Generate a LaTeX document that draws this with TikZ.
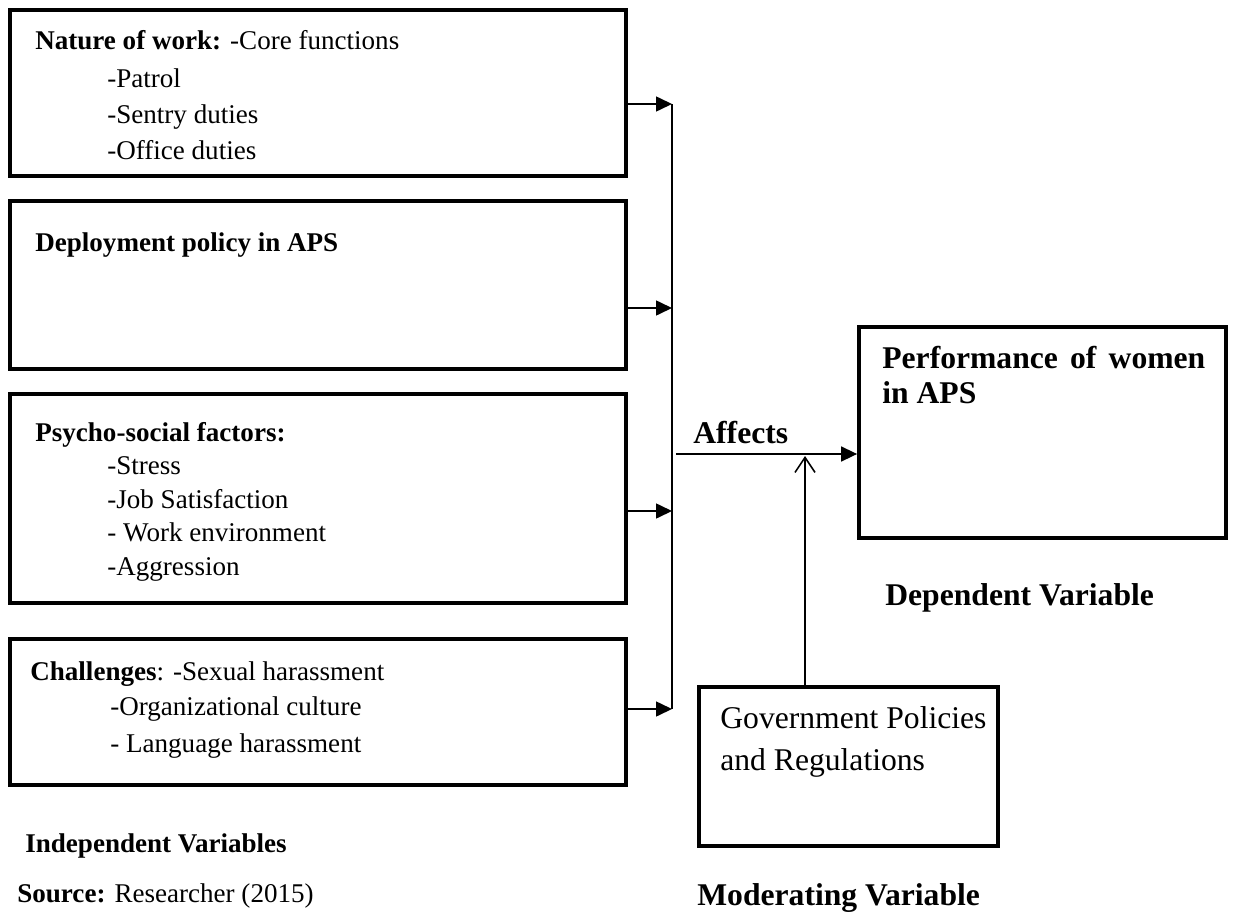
\documentclass[tikz,border=0pt]{standalone}
\usepackage{fontspec}
\setmainfont{Liberation Serif}
\usetikzlibrary{arrows.meta}

\tikzset{
  varbox/.style={draw,line width=2.2pt,inner sep=0pt},
  txt/.style={anchor=base west,inner sep=0pt},
  bigtxt/.style={txt,font=\fontsize{18}{22}\selectfont},
  feed/.style={line width=0.9pt,-{Triangle[length=0.32cm,width=0.3cm]}},
  moder/.style={line width=0.9pt,-{Straight Barb[length=0.3cm,width=0.4cm]}},
}

\begin{document}
\begin{tikzpicture}[x=0.02cm,y=-0.02cm,font=\fontsize{15.4}{20}\selectfont]
  \useasboundingbox (0,0) rectangle (1234,916);
  % Boxes
  % -- independent variables
  \node[varbox,minimum width=12.32cm,minimum height=3.32cm] (work) at (318,93) {};
  \node[varbox,minimum width=12.32cm,minimum height=3.36cm] (deploy) at (318,285) {};
  \node[varbox,minimum width=12.32cm,minimum height=4.18cm] (psycho) at (318,498.5) {};
  \node[varbox,minimum width=12.32cm,minimum height=2.92cm] (chall) at (318,712) {};
  % -- dependent and moderating variable
  \node[varbox,minimum width=7.34cm,minimum height=4.22cm] (perf) at (1042.5,432.5) {};
  \node[varbox,minimum width=5.98cm,minimum height=3.18cm] (gov) at (848.5,766.5) {};
  % Box texts
  \node[txt] (work0) at (35,50) {\textbf{Nature of work:} -Core functions};
  \foreach \item [count=\i] in {-Patrol,-Sentry duties,-Office duties}
    \node[txt] (work\i) at (107,51+36*\i) {\item};
  \node[txt] (deploy0) at (35,251) {\textbf{Deployment policy in APS}};
  \node[txt] (psycho0) at (35,441) {\textbf{Psycho-social factors:}};
  \foreach \item [count=\i] in {-Stress,-Job Satisfaction,- Work environment,-Aggression}
    \node[txt] (psycho\i) at (107,441+33.6*\i) {\item};
  \node[txt] (chall0) at (30,680) {\textbf{Challenges}: -Sexual harassment};
  \node[txt] (chall1) at (110,715) {-Organizational culture};
  \node[txt] (chall2) at (110,752) {- Language harassment};
  \node[bigtxt] (perf0) at (882,368) {\makebox[6.46cm][s]{\bfseries Performance of women}};
  \node[bigtxt] (perf1) at (882,403) {\textbf{in APS}};
  \node[bigtxt] (gov0) at (720,728) {Government Policies};
  \node[bigtxt] (gov1) at (720,770) {and Regulations};
  % Captions
  \node[txt] (indep) at (25,852) {\textbf{Independent Variables}};
  \node[txt] (source) at (17,902) {\textbf{Source:} Researcher (2015)};
  \node[bigtxt] (dep) at (885,605) {\textbf{Dependent Variable}};
  \node[bigtxt] (modvar) at (697,905) {\textbf{Moderating Variable}};
  \node[bigtxt] (affects) at (693,443) {\textbf{Affects}};
  % Connectors
  \coordinate (bus1) at (672,104);
  \coordinate (bus2) at (672,308);
  \coordinate (bus3) at (672,511);
  \coordinate (bus4) at (672,709);
  \coordinate (aff) at (676,454);
  \coordinate (mod) at (805,456);
  \draw[feed] (work.east |- bus1) -- (bus1);
  \draw[feed] (deploy.east |- bus2) -- (bus2);
  \draw[feed] (psycho.east |- bus3) -- (bus3);
  \draw[feed] (chall.east |- bus4) -- (bus4);
  \draw[line width=0.9pt] (bus1) -- (bus4);
  \draw[feed] (aff) -- (perf.west |- aff);
  \draw[moder] (gov.north -| mod) -- (mod);
\end{tikzpicture}
\end{document}
